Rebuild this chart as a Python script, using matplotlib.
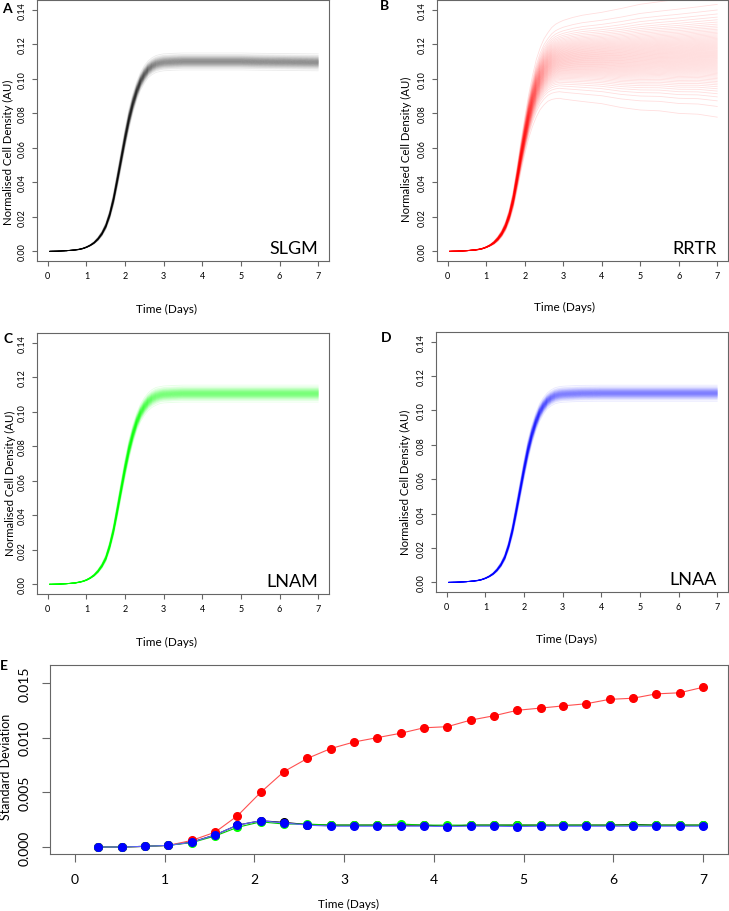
import numpy as np
import matplotlib.pyplot as plt
from statistics import NormalDist

plt.rcParams['font.family'] = ['Lato', 'DejaVu Sans']

# time grid (days) for the trajectory panels
t_days = [0.05, 0.25, 0.5, 0.7, 0.8, 0.9, 1.0, 1.1, 1.2, 1.3, 1.4, 1.5, 1.6, 1.7, 1.8, 1.9,
          2.0, 2.1, 2.2, 2.3, 2.4, 2.5, 2.6, 2.7, 2.8, 2.9, 3.0, 3.25, 3.5, 4.0, 4.5, 5.0,
          5.5, 6.0, 6.5, 7.0]

# mean normalised cell density
mean_slgm = [0.0000, 0.0001, 0.0004, 0.0008, 0.0011, 0.0016, 0.0024, 0.0035, 0.0050, 0.0072,
             0.0102, 0.0145, 0.0210, 0.0300, 0.0415, 0.0535, 0.0655, 0.0765, 0.0855, 0.0928,
             0.0985, 0.1025, 0.1055, 0.1073, 0.1085, 0.1091, 0.1095, 0.1098, 0.1100, 0.1100,
             0.1100, 0.1100, 0.1098, 0.1097, 0.1096, 0.1095]
mean_rrtr = [0.0000, 0.0001, 0.0004, 0.0008, 0.0011, 0.0016, 0.0024, 0.0035, 0.0050, 0.0072,
             0.0102, 0.0145, 0.0208, 0.0298, 0.0420, 0.0550, 0.0670, 0.0780, 0.0870, 0.0945,
             0.1000, 0.1040, 0.1068, 0.1088, 0.1100, 0.1107, 0.1110, 0.1115, 0.1118, 0.1120,
             0.1120, 0.1125, 0.1130, 0.1130, 0.1135, 0.1135]
mean_lnam = [0.0000, 0.0001, 0.0004, 0.0008, 0.0012, 0.0017, 0.0025, 0.0037, 0.0053, 0.0076,
             0.0107, 0.0150, 0.0220, 0.0312, 0.0430, 0.0552, 0.0672, 0.0780, 0.0868, 0.0940,
             0.0993, 0.1030, 0.1058, 0.1077, 0.1089, 0.1096, 0.1100, 0.1103, 0.1105, 0.1105,
             0.1105, 0.1105, 0.1105, 0.1105, 0.1105, 0.1105]
mean_lnaa = [0.0000, 0.0001, 0.0004, 0.0008, 0.0011, 0.0016, 0.0024, 0.0035, 0.0050, 0.0072,
             0.0102, 0.0145, 0.0212, 0.0303, 0.0418, 0.0538, 0.0658, 0.0768, 0.0858, 0.0930,
             0.0987, 0.1026, 0.1055, 0.1073, 0.1085, 0.1091, 0.1094, 0.1097, 0.1099, 0.1100,
             0.1100, 0.1100, 0.1100, 0.1100, 0.1100, 0.1100]

# spread (standard deviation) of the trajectories on the same grid
sd_slgm = [0.0, 0.00002, 0.00004, 0.00008, 0.0001, 0.00012, 0.00015, 0.0002, 0.0003, 0.00045,
           0.0006, 0.0008, 0.0011, 0.0015, 0.0019, 0.0021, 0.0023, 0.0024, 0.0023, 0.0022,
           0.0021, 0.0021, 0.0020, 0.0020, 0.0020, 0.0020, 0.0020, 0.0020, 0.0020, 0.0020,
           0.0020, 0.0020, 0.0020, 0.0020, 0.0020, 0.0020]
sd_rrtr = [0.0, 0.00002, 0.00005, 0.00008, 0.0001, 0.00012, 0.00015, 0.00022, 0.0004, 0.0006,
           0.0008, 0.0011, 0.0015, 0.0021, 0.0028, 0.0036, 0.0044, 0.0052, 0.0060, 0.0068,
           0.0073, 0.0078, 0.0081, 0.0085, 0.0088, 0.0090, 0.0093, 0.0098, 0.0102, 0.0108,
           0.0117, 0.0125, 0.0129, 0.0135, 0.0139, 0.0146]
sd_lnam = [0.0, 0.00002, 0.00004, 0.00008, 0.0001, 0.00012, 0.00015, 0.0002, 0.0003, 0.00045,
           0.0006, 0.0008, 0.0011, 0.0014, 0.0018, 0.0020, 0.0022, 0.0023, 0.0022, 0.0021,
           0.0021, 0.0021, 0.0021, 0.0021, 0.0021, 0.0020, 0.0020, 0.0020, 0.0020, 0.0020,
           0.0020, 0.0020, 0.0020, 0.0020, 0.0020, 0.0020]
sd_lnaa = [0.0, 0.00002, 0.00004, 0.00008, 0.0001, 0.00012, 0.00015, 0.0002, 0.0003, 0.00045,
           0.0006, 0.0008, 0.0011, 0.0015, 0.0019, 0.0021, 0.0023, 0.0024, 0.0023, 0.0022,
           0.0021, 0.0020, 0.0019, 0.0019, 0.0019, 0.0019, 0.0019, 0.0019, 0.0019, 0.0019,
           0.0019, 0.0019, 0.0019, 0.0019, 0.0019, 0.0019]

# panel E: standard deviation at sampling times
sd_times = [0.26, 0.52, 0.78, 1.04, 1.30, 1.56, 1.81, 2.07, 2.33, 2.59, 2.85, 3.11, 3.37, 3.63,
            3.89, 4.15, 4.41, 4.67, 4.93, 5.19, 5.44, 5.70, 5.96, 6.22, 6.48, 6.74, 7.00]
sd_black = [0.0, 0.0, 0.00006, 0.00015, 0.00045, 0.0011, 0.0020, 0.0024, 0.00225, 0.00205,
            0.0020, 0.0020, 0.0020, 0.0020, 0.0020, 0.0019, 0.0020, 0.0020, 0.0020, 0.0020,
            0.0020, 0.0020, 0.0020, 0.00205, 0.0020, 0.0020, 0.0020]
sd_red = [0.0, 0.0, 0.00006, 0.00015, 0.0006, 0.00135, 0.00285, 0.0050, 0.0069, 0.0081,
          0.0090, 0.0096, 0.0100, 0.0104, 0.0109, 0.0110, 0.0116, 0.0120, 0.0125, 0.0127,
          0.0129, 0.0131, 0.0135, 0.0136, 0.0140, 0.0141, 0.0146]
sd_green = [0.0, 0.0, 0.00006, 0.00015, 0.0004, 0.0010, 0.0018, 0.0023, 0.0021, 0.0021,
            0.0020, 0.0020, 0.0020, 0.0021, 0.0020, 0.0020, 0.0020, 0.0020, 0.0020, 0.0020,
            0.0020, 0.0020, 0.0020, 0.0020, 0.0020, 0.0020, 0.0020]
sd_blue = [0.0, 0.0, 0.00006, 0.00015, 0.00043, 0.0011, 0.0020, 0.0024, 0.0022, 0.0020,
           0.0019, 0.0019, 0.0019, 0.0019, 0.0019, 0.00187, 0.0019, 0.0019, 0.00187, 0.0019,
           0.0019, 0.0019, 0.0019, 0.0019, 0.0019, 0.0019, 0.0019]

GRAY = '#666666'
fig = plt.figure(figsize=(7.29, 9.12), dpi=100)


def px_rect(x0, y0, x1, y1):
    W, H = 729, 912
    return [x0 / W, 1 - y1 / H, (x1 - x0) / W, (y1 - y0) / H]


def style_axes(ax, fs, length, pad):
    for s in ax.spines.values():
        s.set_color(GRAY)
        s.set_linewidth(0.8)
    ax.tick_params(colors=GRAY, labelcolor='black', labelsize=fs, length=length,
                   width=0.8, pad=pad)
    for lbl in ax.get_yticklabels():
        lbl.set_rotation(90)
        lbl.set_va('center')


# quantile offsets used to draw the ensemble of trajectories
n_traj = 70
z_offsets = [NormalDist().inv_cdf((i + 0.5) / n_traj) for i in range(n_traj)]

panels = [
    ('SLGM', mean_slgm, sd_slgm, (0, 0, 0), 0.08, px_rect(37, 1, 329, 262)),
    ('RRTR', mean_rrtr, sd_rrtr, (1, 0, 0), 0.13, px_rect(437, 1, 728, 262)),
    ('LNAM', mean_lnam, sd_lnam, (0, 1, 0), 0.10, px_rect(37, 334, 329, 595)),
    ('LNAA', mean_lnaa, sd_lnaa, (0, 0, 1), 0.09, px_rect(436, 333, 728, 593)),
]
t = np.array(t_days)
for name, mu, sd, col, alpha, rect in panels:
    ax = fig.add_axes(rect)
    mu = np.array(mu)
    sd = np.array(sd)
    for z in z_offsets:
        ax.plot(t, mu + z * sd, color=col, alpha=alpha, lw=0.6)
    ax.set_xlim(-0.28, 7.28)
    ax.set_ylim(-0.0056, 0.1456)
    ax.set_xticks(range(8))
    ax.set_yticks([0.0, 0.02, 0.04, 0.06, 0.08, 0.10, 0.12, 0.14])
    ax.set_yticklabels(['0.00', '0.02', '0.04', '0.06', '0.08', '0.10', '0.12', '0.14'])
    style_axes(ax, 6.5, 3.5, 4)
    ax.text(0.962, 0.03, name, transform=ax.transAxes, ha='right', va='baseline',
            fontsize=13)


# panel letters and axis labels placed in pixel positions
def fig_text(x, y, s, **kw):
    fig.text(x / 729, 1 - y / 912, s, **kw)


for letter, x, y in [('A', 7, 9), ('B', 384, 6), ('C', 8, 339), ('D', 386, 338), ('E', 4, 666)]:
    fig_text(x, y, letter, ha='center', va='center', fontsize=10, fontweight='bold')

for x, y in [(166, 309), (564, 307), (167, 642), (566, 639)]:
    fig_text(x, y, 'Time (Days)', ha='center', va='center', fontsize=8.5)
for x, y in [(8, 152), (406, 149), (10, 483), (405, 482)]:
    fig_text(x, y, 'Normalised Cell Density (AU)', ha='center', va='center',
             rotation=90, fontsize=8.2)

# panel E
axe = fig.add_axes(px_rect(50, 666, 728, 855))
for vals, col, lc in [(sd_black, 'black', 'black'), (sd_red, 'red', '#ff5050'),
                      (sd_green, '#00ff00', '#00cc00'), (sd_blue, 'blue', '#6060ff')]:
    axe.plot(sd_times, vals, color=lc, lw=0.8, zorder=2)
    axe.plot(sd_times, vals, 'o', color=col, ms=5.5, zorder=3)
axe.set_xlim(-0.28, 7.28)
axe.set_ylim(-0.00064, 0.01664)
axe.set_xticks(range(8))
axe.set_yticks([0.0, 0.005, 0.010, 0.015])
axe.set_yticklabels(['0.000', '0.005', '0.010', '0.015'])
style_axes(axe, 10, 6, 8)
fig_text(349, 904, 'Time (Days)', ha='center', va='center', fontsize=8.5)
fig_text(6, 767, 'Standard Deviation', ha='center', va='center', rotation=90, fontsize=9)

fig.savefig('out.png', dpi=100)
